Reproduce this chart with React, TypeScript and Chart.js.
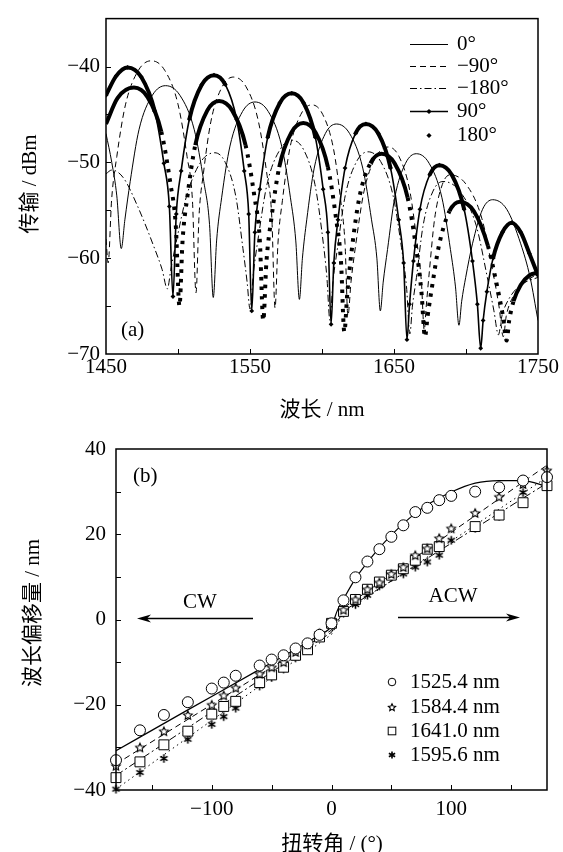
import React, { useEffect, useRef } from 'react';
import { Chart, registerables } from 'chart.js';

Chart.register(...registerables);

const SERIF = "'Liberation Serif', 'DejaVu Serif', serif";
const MIXED = "'Liberation Serif', 'Noto Sans CJK SC', serif";
const FS = 21;

// ---------------- Panel (a): transmission spectra ----------------
const xTicksA = [1450, 1500, 1550, 1600, 1650, 1700, 1750];
const xLabelsA = [1450, 1550, 1650, 1750];
const yTicksA = [-70, -65, -60, -55, -50, -45, -40, -35];
const yLabelsA = [-70, -60, -50, -40];

// 0°
const wl0 = [1450, 1454, 1457.5, 1460.6, 1463.1, 1466.8, 1472.9, 1482.2, 1491.4, 1501.3, 1511.3, 1517.9, 1521.9, 1524.5, 1526.8, 1530.3, 1536.1, 1544.8, 1553.5, 1562.7, 1572.0, 1578.1, 1581.8, 1584.3, 1586.4, 1589.4, 1594.6, 1602.3, 1610.0, 1619.2, 1628.3, 1634.4, 1638.1, 1640.5, 1642.5, 1645.5, 1650.5, 1658.0, 1665.5, 1674.4, 1683.3, 1689.2, 1692.7, 1695.1, 1697.0, 1699.8, 1704.5, 1711.5, 1718.5, 1728.3, 1738.0, 1744.5, 1750.0];
const db0 = [-47.0, -50.0, -53.5, -59.0, -56.0, -52.0, -46.6, -43.0, -42.0, -43.0, -46.6, -52.0, -56.5, -64.1, -58.2, -53.7, -48.3, -44.7, -43.7, -44.7, -48.3, -53.7, -58.2, -64.3, -60.0, -56.0, -50.6, -47.0, -46.0, -47.0, -50.6, -56.0, -60.0, -65.5, -62.5, -59.1, -53.7, -50.1, -49.1, -50.1, -53.7, -59.1, -63.0, -67.0, -64.5, -62.0, -58.5, -54.9, -53.9, -54.9, -58.5, -62.0, -66.5];

// -90°
const wlM90 = [1450, 1451.5, 1453.9, 1457.5, 1463.5, 1472.5, 1481.5, 1490.8, 1500.1, 1506.3, 1510.0, 1512.5, 1514.6, 1517.7, 1522.9, 1530.7, 1538.5, 1547.2, 1555.8, 1561.6, 1565.1, 1567.4, 1569.4, 1572.5, 1577.6, 1585.3, 1593.0, 1600.5, 1608.0, 1613.0, 1616.0, 1618.0, 1620.2, 1623.6, 1629.2, 1637.6, 1646.0, 1653.5, 1661.0, 1666.0, 1669.0, 1671.0, 1672.4, 1674.6, 1678.2, 1683.6, 1689.0, 1700.1, 1711.1, 1718.5, 1722.9, 1725.9, 1728.0, 1735.0, 1742.0, 1750.0];
const dbM90 = [-58.0, -60.5, -53.9, -49.4, -44.0, -40.4, -39.4, -40.4, -44.0, -49.4, -53.9, -63.6, -55.6, -51.1, -45.7, -42.1, -41.1, -42.1, -45.7, -51.1, -55.6, -65.2, -58.5, -54.0, -48.6, -45.0, -44.0, -45.0, -48.6, -54.0, -58.5, -66.0, -62.4, -58.4, -53.0, -49.4, -48.4, -49.4, -53.0, -58.4, -62.4, -67.5, -65.0, -61.3, -55.9, -52.3, -51.3, -52.3, -55.9, -61.3, -65.0, -68.2, -66.0, -63.5, -62.4, -61.6];

// -180°
const wlM180 = [1450, 1454, 1462, 1472, 1483, 1489, 1492.6, 1495.2, 1499.2, 1505.8, 1515.6, 1525.5, 1532.8, 1540.2, 1545.1, 1548.0, 1550.0, 1552.4, 1555.9, 1561.8, 1570.7, 1579.5, 1587.3, 1595.1, 1600.3, 1603.4, 1605.5, 1607.6, 1610.8, 1616.1, 1624.1, 1632.0, 1640.7, 1649.4, 1655.2, 1658.7, 1661.0, 1662.8, 1665.6, 1670.2, 1677.1, 1684.0, 1695.6, 1707.1, 1714.8, 1719.4, 1722.5, 1725.0, 1730.0, 1738.0, 1750.0];
const dbM180 = [-51.2, -50.8, -51.6, -54.6, -58.7, -61.2, -63.2, -61.0, -58.0, -53.6, -50.0, -49.0, -50.0, -53.6, -59.0, -62.5, -65.3, -61.5, -57.7, -52.3, -48.7, -47.7, -48.7, -52.3, -57.7, -62.0, -66.5, -62.5, -58.9, -53.5, -49.9, -48.9, -49.9, -53.5, -58.9, -63.0, -67.9, -65.0, -62.0, -56.6, -53.0, -52.0, -53.0, -56.6, -62.0, -65.5, -68.0, -66.0, -64.2, -62.8, -62.0];

// 90°
const wl90 = [1450, 1457, 1465.0, 1474.5, 1483.9, 1490.2, 1494.0, 1496.5, 1498.8, 1502.2, 1507.9, 1516.5, 1525.0, 1532.9, 1540.7, 1546.0, 1549.1, 1551.2, 1553.4, 1556.8, 1562.3, 1570.7, 1579.0, 1587.2, 1595.4, 1600.8, 1604.1, 1606.3, 1608.2, 1611.1, 1616.0, 1623.2, 1630.5, 1639.1, 1647.6, 1653.3, 1656.7, 1659.0, 1660.8, 1663.5, 1668.0, 1674.8, 1681.5, 1690.1, 1698.7, 1704.5, 1707.9, 1710.2, 1711.9, 1714.5, 1718.8, 1725.3, 1731.7, 1738, 1744, 1750];
const db90 = [-43.0, -41.0, -40.1, -41.1, -44.7, -50.1, -54.6, -64.0, -55.4, -50.9, -45.5, -41.9, -40.9, -41.9, -45.5, -50.9, -55.4, -65.5, -57.3, -52.8, -47.4, -43.8, -42.8, -43.8, -47.4, -52.8, -57.3, -66.9, -60.5, -56.0, -50.6, -47.0, -46.0, -47.0, -50.6, -56.0, -60.5, -68.5, -64.8, -60.3, -54.9, -51.3, -50.3, -51.3, -54.9, -60.3, -64.8, -69.4, -66.5, -63.5, -60.0, -57.3, -56.3, -57.3, -59.5, -61.8];

// 180°
const wl180 = [1450, 1458, 1469.4, 1478.9, 1488.4, 1494.7, 1498.5, 1501.0, 1503.2, 1506.5, 1512.0, 1520.3, 1528.5, 1537.7, 1546.9, 1553.1, 1556.8, 1559.2, 1561.4, 1564.8, 1570.3, 1578.7, 1587.0, 1595.6, 1604.1, 1609.8, 1613.2, 1615.5, 1617.6, 1620.7, 1625.9, 1633.6, 1641.4, 1650.4, 1659.5, 1665.5, 1669.1, 1671.5, 1673.4, 1676.4, 1681.2, 1688.5, 1695.8, 1705.5, 1715.2, 1721.7, 1725.6, 1728.2, 1730.0, 1733.0, 1738.0, 1744.0, 1750.0];
const db180 = [-46.0, -43.3, -42.2, -43.2, -46.8, -52.2, -56.7, -65.0, -58.1, -53.6, -48.2, -44.6, -43.6, -44.6, -48.2, -53.6, -58.1, -66.5, -60.4, -55.9, -50.5, -46.9, -45.9, -46.9, -50.5, -55.9, -60.4, -67.7, -63.6, -59.1, -53.7, -50.1, -49.1, -50.1, -53.7, -59.1, -63.6, -68.2, -66.0, -63.0, -58.7, -55.1, -54.1, -55.1, -58.7, -63.0, -66.0, -68.6, -66.5, -64.5, -62.8, -61.8, -61.5];

const legendA = ['0°', '\u221290°', '\u2212180°', '90°', '180°'];

// ---------------- Panel (b): wavelength shift vs twist angle ----------------
const xTicksB = [-180, -150, -100, -50, 0, 50, 100, 150, 180];
const xLabelsB = [-100, 0, 100];
const yTicksB = [-40, -30, -20, -10, 0, 10, 20, 30, 40];
const yLabelsB = [-40, -20, 0, 20, 40];

const angles = [-180, -160, -140, -120, -100, -90, -80, -60, -50, -40, -30, -20, -10, 0, 10, 20, 30, 40, 50, 60, 70, 80, 90, 100, 120, 140, 160, 180];
const shift1525 = [-33.0, -26.0, -22.4, -19.4, -16.2, -14.8, -13.2, -10.8, -9.4, -8.4, -6.8, -5.6, -3.6, -0.9, 4.5, 9.9, 13.6, 16.5, 19.4, 22.1, 25.2, 26.2, 28.0, 29.0, 30.0, 31.0, 32.6, 33.4];
const shift1584 = [-34.3, -30.0, -26.2, -22.4, -20.0, -17.8, -16.0, -12.7, -11.2, -10.0, -7.6, -5.8, -3.2, -0.9, 2.3, 4.7, 7.1, 8.7, 10.7, 12.3, 15.1, 16.7, 19.1, 21.4, 25.0, 28.8, 31.8, 35.0];
const shift1641 = [-37.1, -33.4, -29.4, -26.2, -22.2, -20.4, -19.2, -14.8, -13.0, -11.2, -8.4, -7.1, -4.1, -0.9, 1.9, 4.7, 7.1, 8.8, 10.4, 11.9, 13.9, 16.5, 17.1, null, 21.8, 24.5, 27.4, 31.4];
const shift1595 = [-39.8, -35.9, -32.6, -28.1, -24.6, -22.8, -20.8, -15.6, -13.6, -11.6, -9.0, -5.8, -3.6, -0.9, 1.5, 3.5, 5.7, 7.9, 9.9, 10.7, 12.3, 13.5, 15.1, 18.6, 21.4, 24.2, 29.8, 33.4];

const fitAng1525 = [-180, -120, -60, -10, 0, 5, 10, 20, 30, 40, 50, 60, 70, 80, 100, 120, 140, 160, 180];
const fit1525 = [-30.8, -21.2, -11.7, -3.6, -1.5, 2.2, 4.8, 9.6, 13.4, 16.8, 19.8, 22.5, 24.9, 26.9, 29.9, 32.0, 32.6, 32.6, 31.2];
const fitAng1584 = [-180, 0, 10, 180];
const fit1584 = [-33.9, -2.5, 2.7, 36.2];
const fitAng1641 = [-180, 0, 10, 180];
const fit1641 = [-36.6, -3.0, 2.0, 32.0];
const fitAng1595 = [-180, 0, 10, 180];
const fit1595 = [-39.8, -3.5, 1.5, 33.4];

const legendB = ['1525.4 nm', '1584.4 nm', '1641.0 nm', '1595.6 nm'];

// ---------------- helpers ----------------
const pts = (xs: number[], ys: (number | null)[]) => xs.map((x, i) => ({ x, y: ys[i] }));
const fmt = (v: number) => (v < 0 ? '\u2212' + Math.abs(v) : String(v));
const steep = (c: any, k: number) => {
  const dx = Math.abs(c.p1.x - c.p0.x);
  const dy = Math.abs(c.p1.y - c.p0.y);
  return dy > k * dx;
};

function makeStar(r: number) {
  const s = Math.ceil(r * 2 + 4);
  const c = document.createElement('canvas');
  c.width = s; c.height = s;
  const g = c.getContext('2d')!;
  g.translate(s / 2, s / 2 + 0.5);
  g.beginPath();
  for (let i = 0; i < 10; i++) {
    const a = -Math.PI / 2 + (i * Math.PI) / 5;
    const rr = i % 2 === 0 ? r : r * 0.48;
    g.lineTo(rr * Math.cos(a), rr * Math.sin(a));
  }
  g.closePath();
  g.fillStyle = '#fff'; g.fill();
  g.lineWidth = 1.1; g.strokeStyle = '#000'; g.stroke();
  return c;
}
function makeAsterisk(r: number) {
  const s = Math.ceil(r * 2 + 4);
  const c = document.createElement('canvas');
  c.width = s; c.height = s;
  const g = c.getContext('2d')!;
  g.translate(s / 2, s / 2);
  g.strokeStyle = '#000'; g.lineWidth = 1.6;
  g.beginPath();
  for (let i = 0; i < 3; i++) {
    const a = Math.PI / 2 + (i * Math.PI) / 3;
    g.moveTo(-r * Math.cos(a), -r * Math.sin(a));
    g.lineTo(r * Math.cos(a), r * Math.sin(a));
  }
  g.stroke();
  return c;
}

function drawFrame(chart: any, xt: number[], yt: number[]) {
  const { ctx, chartArea: a } = chart;
  const sx = chart.scales.x, sy = chart.scales.y;
  ctx.save();
  ctx.strokeStyle = '#000';
  ctx.lineWidth = 1;
  ctx.beginPath();
  xt.forEach((v) => {
    if (v <= sx.min || v >= sx.max) return;
    const p = Math.round(sx.getPixelForValue(v)) + 0.5;
    ctx.moveTo(p, a.bottom); ctx.lineTo(p, a.bottom - 5);
  });
  yt.forEach((v) => {
    if (v <= sy.min || v >= sy.max) return;
    const p = Math.round(sy.getPixelForValue(v)) + 0.5;
    ctx.moveTo(a.left, p); ctx.lineTo(a.left + 5, p);
  });
  ctx.stroke();
  ctx.lineWidth = 1.5;
  ctx.strokeRect(a.left, a.top, a.right - a.left, a.bottom - a.top);
  ctx.restore();
}

function text(ctx: any, s: string, x: number, y: number, align: string, font = SERIF, rot = 0) {
  ctx.save();
  ctx.fillStyle = '#000';
  ctx.font = `${FS}px ${font}`;
  ctx.textAlign = align;
  ctx.textBaseline = 'middle';
  ctx.translate(x, y);
  if (rot) ctx.rotate(rot);
  ctx.fillText(s, 0, 0);
  ctx.restore();
}

function diamond(ctx: any, x: number, y: number, r: number) {
  ctx.beginPath();
  ctx.moveTo(x, y - r); ctx.lineTo(x + r, y); ctx.lineTo(x, y + r); ctx.lineTo(x - r, y);
  ctx.closePath(); ctx.fill();
}

function arrow(ctx: any, x1: number, x2: number, y: number) {
  const dir = Math.sign(x2 - x1);
  ctx.save();
  ctx.strokeStyle = '#000'; ctx.fillStyle = '#000'; ctx.lineWidth = 1.3;
  ctx.beginPath(); ctx.moveTo(x1, y); ctx.lineTo(x2 - dir * 8, y); ctx.stroke();
  ctx.beginPath();
  ctx.moveTo(x2, y); ctx.lineTo(x2 - dir * 14, y - 4); ctx.lineTo(x2 - dir * 10, y); ctx.lineTo(x2 - dir * 14, y + 4);
  ctx.closePath(); ctx.fill();
  ctx.restore();
}

function axisCfg(ticks: number[], labels: number[], min: number, max: number, fit: (s: any) => void, pad: number) {
  return {
    type: 'linear', min, max,
    afterBuildTicks: (s: any) => { s.ticks = ticks.map((v) => ({ value: v })); },
    afterFit: fit,
    grid: { display: false, drawTicks: false },
    border: { display: false },
    ticks: {
      padding: pad, autoSkip: false, maxRotation: 0, color: '#000',
      font: { family: SERIF, size: FS },
      callback: (v: number) => (labels.includes(v) ? fmt(v) : ''),
    },
  };
}

const lineDs = (data: any[], extra: any) => ({
  data, showLine: true, borderColor: '#000', backgroundColor: '#000', borderWidth: 1,
  pointRadius: 0, cubicInterpolationMode: 'monotone', ...extra,
});

export default function App() {
  const refA = useRef<HTMLCanvasElement>(null);
  const refB = useRef<HTMLCanvasElement>(null);

  useEffect(() => {
    const starImg = makeStar(4.6);
    const astImg = makeAsterisk(4.2);
    const starSmall = makeStar(3.8);
    const astSmall = makeAsterisk(3.6);

    const decoA = {
      id: 'decoA',
      afterDraw(chart: any) {
        const ctx = chart.ctx;
        drawFrame(chart, xTicksA, yTicksA);
        const rows = [44, 66, 88, 111, 135];
        rows.forEach((y, i) => {
          ctx.save();
          ctx.strokeStyle = '#000'; ctx.fillStyle = '#000';
          if (i < 4) {
            ctx.lineWidth = i === 3 ? 1.5 : 1;
            ctx.setLineDash(i === 1 ? [6, 4] : i === 2 ? [7, 3, 1.5, 3] : []);
            ctx.beginPath(); ctx.moveTo(410, y + 0.5); ctx.lineTo(448, y + 0.5); ctx.stroke();
          }
          if (i >= 3) diamond(ctx, 429, y + 0.5, 2.6);
          ctx.restore();
          text(ctx, legendA[i], 457, y, 'left');
        });
        text(ctx, '(a)', 121, 330, 'left');
        text(ctx, '波长 / nm', 322, 410, 'center', MIXED);
        text(ctx, '传输 / dBm', 30, 184, 'center', MIXED, -Math.PI / 2);
      },
    };

    const chartA = new Chart(refA.current!, {
      type: 'scatter',
      data: {
        datasets: [
          lineDs(pts(wl90, db90), {
            label: '90°', borderWidth: 4, pointRadius: 2.4, pointStyle: 'rectRot',
            pointBackgroundColor: '#000', pointBorderWidth: 0,
            segment: { borderWidth: (c: any) => (steep(c, 3) ? 1.6 : undefined) },
          }),
          lineDs(pts(wl180, db180), {
            label: '180°', borderWidth: 4,
            segment: { borderDash: (c: any) => (steep(c, 3) ? [3.5, 6] : undefined) },
          }),
          lineDs(pts(wl0, db0), { label: '0°' }),
          lineDs(pts(wlM90, dbM90), { label: '\u221290°', borderDash: [6, 4] }),
          lineDs(pts(wlM180, dbM180), { label: '\u2212180°', borderDash: [7, 3, 1.5, 3] }),
        ],
      } as any,
      options: {
        animation: false, responsive: false,
        layout: { padding: { left: 0, right: 25, top: 12, bottom: 0 } },
        plugins: { legend: { display: false }, tooltip: { enabled: false } },
        scales: {
          x: axisCfg(xTicksA, xLabelsA, 1450, 1750, (s: any) => { s.height = 72; }, 1),
          y: axisCfg(yTicksA, yLabelsA, -70, -35, (s: any) => { s.width = 106; }, 6),
        },
      } as any,
      plugins: [decoA],
    });

    const decoB = {
      id: 'decoB',
      afterDraw(chart: any) {
        const ctx = chart.ctx;
        drawFrame(chart, xTicksB, yTicksB);
        text(ctx, '(b)', 133, 50, 'left');
        text(ctx, 'CW', 200, 176, 'center');
        arrow(ctx, 253, 137, 192.5);
        text(ctx, 'ACW', 453, 170, 'center');
        arrow(ctx, 398, 520, 191.5);
        const rows = [256, 281, 305, 329];
        const mx = 392;
        ctx.save();
        ctx.strokeStyle = '#000'; ctx.lineWidth = 1; ctx.fillStyle = '#fff';
        ctx.beginPath(); ctx.arc(mx, rows[0], 3.8, 0, Math.PI * 2); ctx.fill(); ctx.stroke();
        ctx.drawImage(starSmall, mx - starSmall.width / 2, rows[1] - starSmall.height / 2);
        ctx.fillRect(mx - 3.8, rows[2] - 3.8, 7.6, 7.6);
        ctx.strokeRect(mx - 3.8, rows[2] - 3.8, 7.6, 7.6);
        ctx.drawImage(astSmall, mx - astSmall.width / 2, rows[3] - astSmall.height / 2);
        ctx.restore();
        rows.forEach((y, i) => text(ctx, legendB[i], 410, y, 'left'));
        text(ctx, '扭转角 / (°)', 332, 418, 'center', MIXED);
        text(ctx, '波长偏移量 / nm', 33, 187, 'center', MIXED, -Math.PI / 2);
      },
    };

    const mk = (data: any[], style: any, r: number) => ({
      data, showLine: false, pointStyle: style, pointRadius: r,
      pointBackgroundColor: '#fff', pointBorderColor: '#000', pointBorderWidth: 1,
      borderColor: '#000', backgroundColor: '#fff', clip: 10,
    });

    const chartB = new Chart(refB.current!, {
      type: 'scatter',
      data: {
        datasets: [
          mk(pts(angles, shift1525), 'circle', 5.5),
          mk(pts(angles, shift1584), starImg, 5),
          mk(pts(angles, shift1641), 'rect', 7),
          mk(pts(angles, shift1595), astImg, 5),
          lineDs(pts(fitAng1525, fit1525), { borderWidth: 1.2 }),
          lineDs(pts(fitAng1584, fit1584), { borderDash: [6, 4], cubicInterpolationMode: 'default', tension: 0 }),
          lineDs(pts(fitAng1641, fit1641), { borderDash: [8, 3, 2, 3], cubicInterpolationMode: 'default', tension: 0 }),
          lineDs(pts(fitAng1595, fit1595), { borderDash: [1.5, 3.5], cubicInterpolationMode: 'default', tension: 0 }),
        ],
      } as any,
      options: {
        animation: false, responsive: false,
        layout: { padding: { left: 0, right: 16, top: 23, bottom: 0 } },
        plugins: { legend: { display: false }, tooltip: { enabled: false } },
        scales: {
          x: axisCfg(xTicksB, xLabelsB, -180, 180, (s: any) => { s.height = 62; }, 7),
          y: axisCfg(yTicksB, yLabelsB, -40, 40, (s: any) => { s.width = 116; }, 10),
        },
      } as any,
      plugins: [decoB],
    });

    return () => {
      chartA.destroy();
      chartB.destroy();
    };
  }, []);

  return (
    <div style={{ position: 'fixed', left: 0, top: 0, width: 563, height: 852, background: '#fff' }}>
      <canvas ref={refA} width={563} height={426} style={{ position: 'absolute', left: 0, top: 0, width: 563, height: 426 }} />
      <canvas ref={refB} width={563} height={426} style={{ position: 'absolute', left: 0, top: 426, width: 563, height: 426 }} />
    </div>
  );
}
